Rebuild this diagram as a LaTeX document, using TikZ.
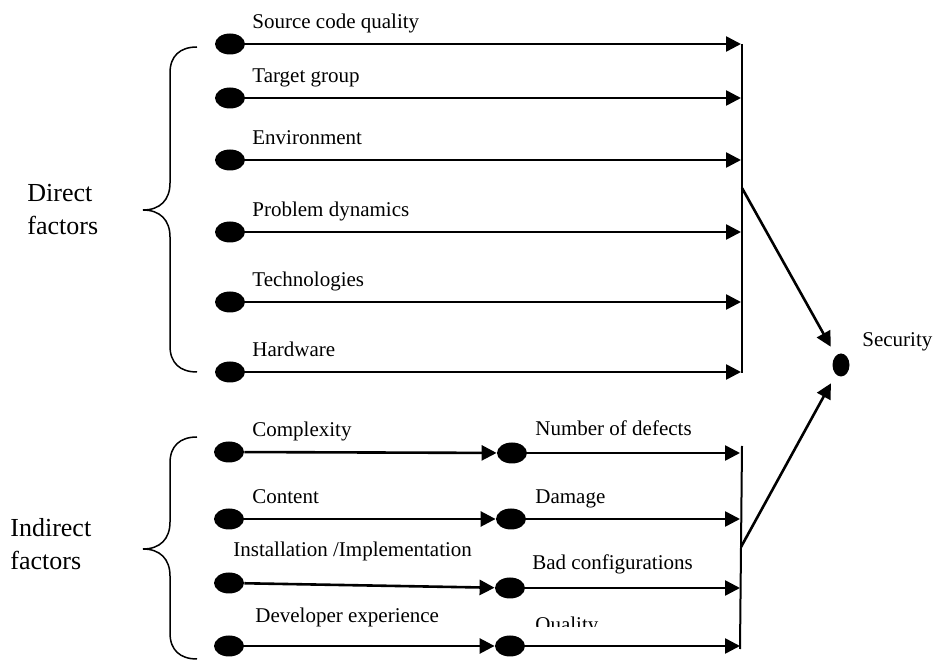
\documentclass[tikz,border=0pt]{standalone}
\usepackage{fontspec}
\setmainfont{Liberation Serif}
\usetikzlibrary{arrows.meta,shapes.geometric}
\tikzset{
	punkt/.style={ellipse, fill=black, inner sep=0pt, minimum width=15pt, minimum height=10.5pt},
	pfeil/.style={line width=1.3pt, -{Triangle[length=7.5pt, width=7.5pt]}},
	lbl/.style={anchor=base west, inner sep=0pt, font=\fontsize{10.5}{12.6}\selectfont},
	gruppe/.style={anchor=base west, inner sep=0pt, align=left, font=\fontsize{13}{16.5}\selectfont},
	klammer/.style={line width=0.75pt}
}
\begin{document}
\begin{tikzpicture}[x=0.5pt, y=-0.5pt]
		\useasboundingbox (0, 0) rectangle (933, 662);
		% Direkte Faktoren
		\begin{scope}
			\node[punkt] (d1) at (230, 44) {};
			\node[punkt] (d2) at (230, 98) {};
			\node[punkt] (d3) at (230, 160) {};
			\node[punkt] (d4) at (230, 232) {};
			\node[punkt] (d5) at (230, 302) {};
			\node[punkt] (d6) at (230, 372) {};
			\node[lbl] (ld1) at (252, 29) {Source code quality};
			\node[lbl] (ld2) at (252, 83) {Target group};
			\node[lbl] (ld3) at (252, 145) {Environment};
			\node[lbl] (ld4) at (252, 217) {Problem dynamics};
			\node[lbl] (ld5) at (252, 287) {Technologies};
			\node[lbl] (ld6) at (252, 357) {Hardware};
			\coordinate (e1) at (741, 44);
			\coordinate (e2) at (741, 98);
			\coordinate (e3) at (741, 160);
			\coordinate (e4) at (741, 232);
			\coordinate (e5) at (741, 302);
			\coordinate (e6) at (741, 372);
			\draw[klammer] (197, 47) .. controls (180, 47) and (170, 56) .. (170, 73) -- (170, 183)
				.. controls (170, 200) and (160, 210) .. (143, 210)
				.. controls (160, 210) and (170, 220) .. (170, 237) -- (170, 346)
				.. controls (170, 363) and (180, 372) .. (197, 372);
			\node[gruppe] (gd) at (27, 235) {Direct\\factors};
		\end{scope}
		% Indirekte Faktoren
		\begin{scope}
			\node[punkt] (a1) at (229, 452) {};
			\node[punkt] (a2) at (229, 519) {};
			\node[punkt] (a3) at (229, 583) {};
			\node[punkt] (a4) at (229, 646) {};
			\node[punkt] (m1) at (512, 453) {};
			\node[punkt] (m2) at (511, 519) {};
			\node[punkt] (m3) at (510, 588) {};
			\node[punkt] (m4) at (510, 646) {};
			\node[lbl] (la1) at (252, 437) {Complexity};
			\node[lbl] (la2) at (252, 504) {Content};
			\node[lbl] (la3) at (233, 557) {Installation /Implementation};
			\node[lbl] (la4) at (255, 623) {Developer experience};
			\node[lbl] (lm1) at (535, 436) {Number of defects};
			\node[lbl] (lm2) at (535, 504) {Damage};
			\node[lbl] (lm3) at (532, 570) {Bad configurations};
			\begin{scope}
				\clip (520, 600) rectangle (720, 627);
				\node[lbl] (lm4) at (535, 632) {Quality};
			\end{scope}
			\coordinate (f1) at (740, 453);
			\coordinate (f2) at (740, 519);
			\coordinate (f3) at (740, 588);
			\coordinate (f4) at (740, 646);
			\draw[klammer] (197, 437) .. controls (180, 437) and (170, 446) .. (170, 463) -- (170, 522)
				.. controls (170, 539) and (160, 549) .. (143, 549)
				.. controls (160, 549) and (170, 559) .. (170, 576) -- (170, 633)
				.. controls (170, 650) and (180, 659) .. (197, 659);
			\node[gruppe] (gi) at (10, 570) {Indirect\\factors};
		\end{scope}
		% Security
		\node[punkt, minimum width=8.5pt, minimum height=11.5pt] (sec) at (841, 365) {};
		\node[lbl] (lsec) at (862, 347) {Security};
		% Sammelbalken
		\coordinate (o1) at (742, 44);
		\coordinate (u1) at (742, 373);
		\coordinate (k1) at (742, 188);
		\coordinate (o2) at (742, 446);
		\coordinate (u2) at (740, 649);
		\coordinate (k2) at (741, 547);
		\draw[line width=1pt] (o1) -- (u1);
		\draw[line width=1pt] (o2) -- (u2);
		% Linien
		\draw[pfeil] (d1) -- (e1);
		\draw[pfeil] (d2) -- (e2);
		\draw[pfeil] (d3) -- (e3);
		\draw[pfeil] (d4) -- (e4);
		\draw[pfeil] (d5) -- (e5);
		\draw[pfeil] (d6) -- (e6);
		\draw[pfeil] (a1) -- (m1);
		\draw[pfeil] (a2) -- (m2);
		\draw[pfeil] (a3) -- (m3);
		\draw[pfeil] (a4) -- (m4);
		\draw[pfeil] (m1) -- (f1);
		\draw[pfeil] (m2) -- (f2);
		\draw[pfeil] (m3) -- (f3);
		\draw[pfeil] (m4) -- (f4);
		\draw[pfeil, shorten >=5pt] (k1) -- (sec);
		\draw[pfeil, shorten >=5pt] (k2) -- (sec);
	\end{tikzpicture}
\end{document}
